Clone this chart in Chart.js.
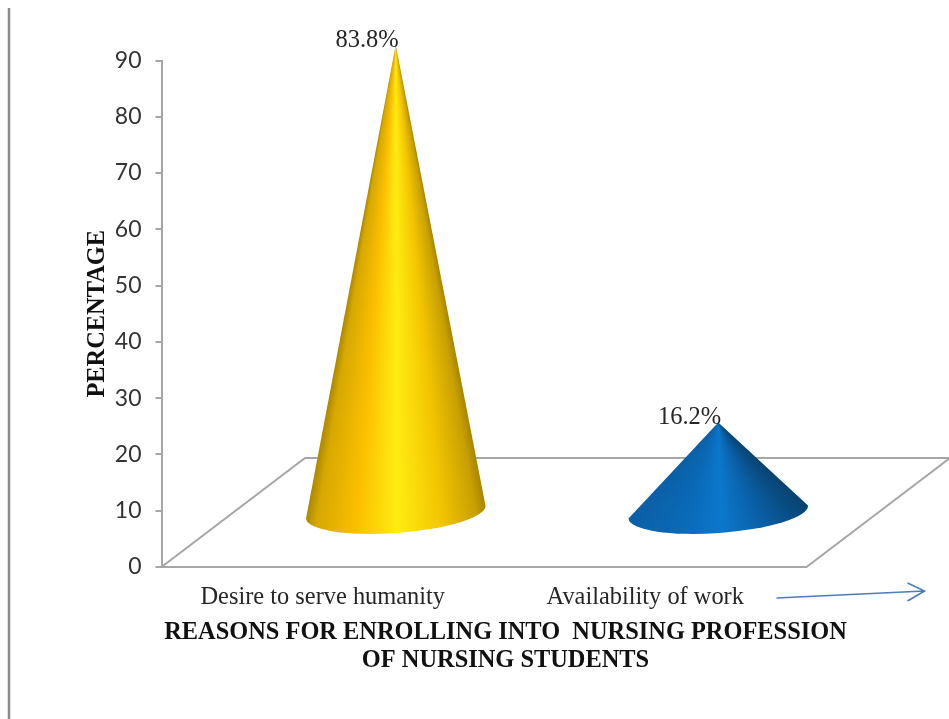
<!DOCTYPE html>
<html>
<head>
<meta charset="utf-8">
<title>Reasons for enrolling into nursing profession</title>
<script src="https://cdn.jsdelivr.net/npm/chart.js@4/dist/chart.umd.min.js"></script>
<style>
  html, body { margin: 0; padding: 0; background: #fff; }
  canvas { display: block; }
</style>
</head>
<body>
<canvas id="chart" width="949" height="719"></canvas>
<script>
const categories = ["Desire to serve humanity", "Availability of work"];
const percentages = [83.8, 16.2];
const xTitleLines = ["REASONS FOR ENROLLING INTO  NURSING PROFESSION", "OF NURSING STUDENTS"];
const yTitle = "PERCENTAGE";

const yellowStops = [[0, "#ad8800"], [0.06, "#d6a800"], [0.28, "#fbbf00"], [0.5, "#ffec12"], [0.75, "#f2c400"], [0.94, "#c8a000"], [1, "#a88400"]];
const blueStops = [[0, "#0b5fa6"], [0.25, "#0a69b6"], [0.5, "#0b78cc"], [0.75, "#0a5ea4"], [1, "#07426f"]];
const coneStops = [yellowStops, blueStops];

const serif = "'Liberation Serif', 'Times New Roman', serif";
const axisGrey = "#a6a6a6";

// floor of the 3D plot, and how far into it the cones stand
const floorDepthX = 143.5;
const floorDepthY = 109;
const coneOffsetX = 73;
const coneOffsetY = 54;
const coneTilt = 6.5;
const coneRy = 21;
const coneHeightScale = 0.992;

const floorPlugin = {
  id: "floor",
  beforeDatasetsDraw(chart) {
    const { ctx, scales: { x, y } } = chart;
    const base = y.getPixelForValue(0);
    ctx.save();
    ctx.strokeStyle = axisGrey;
    ctx.lineWidth = 2;
    ctx.beginPath();
    ctx.moveTo(x.left, base);
    ctx.lineTo(x.left + floorDepthX, base - floorDepthY);
    ctx.lineTo(x.right + floorDepthX, base - floorDepthY);
    ctx.lineTo(x.right, base);
    ctx.stroke();
    ctx.restore();
  }
};

const conePlugin = {
  id: "cones",
  afterDatasetsDraw(chart) {
    const { ctx } = chart;
    chart.getDatasetMeta(0).data.forEach((bar, i) => {
      const cx = bar.x + coneOffsetX;
      const cy = bar.base - coneOffsetY;
      const rx = bar.width / 2;
      const tipY = cy - (bar.base - bar.y) * coneHeightScale;
      const angle = Math.atan2(-coneTilt, rx);
      const dx = rx * Math.cos(angle);
      const dy = rx * Math.sin(angle);

      // shading fans out from the tip, so the bands narrow towards it
      const rightAngle = Math.atan2(cy + dy - tipY, dx);
      const leftAngle = Math.atan2(cy - dy - tipY, -dx);
      const sweep = (leftAngle - rightAngle) / (Math.PI * 2);
      const grad = ctx.createConicGradient(rightAngle, cx, tipY);
      const stops = coneStops[i];
      stops.slice().reverse().forEach(([at, colour]) => grad.addColorStop((1 - at) * sweep, colour));
      grad.addColorStop(1, stops[stops.length - 1][1]);

      ctx.save();
      ctx.beginPath();
      ctx.moveTo(cx, tipY);
      ctx.lineTo(cx + dx, cy + dy);
      ctx.ellipse(cx, cy, rx, coneRy, angle, 0, Math.PI);
      ctx.closePath();
      ctx.fillStyle = grad;
      ctx.fill();

      // value label sits against the tip, ending just past it
      ctx.fillStyle = "#262626";
      ctx.font = "24.5px " + serif;
      ctx.textAlign = "right";
      ctx.textBaseline = "alphabetic";
      ctx.fillText(percentages[i].toFixed(1) + "%", cx + 3, tipY + 1.5);
      ctx.restore();
    });
  }
};

const extrasPlugin = {
  id: "extras",
  afterDraw(chart) {
    const { ctx, scales: { x, y } } = chart;
    const base = y.getPixelForValue(0);
    ctx.save();

    // page rule down the left side
    ctx.strokeStyle = "#8c8c8c";
    ctx.lineWidth = 2.5;
    ctx.beginPath();
    ctx.moveTo(9, 8);
    ctx.lineTo(9, chart.height);
    ctx.stroke();

    // two line axis title, centred a little right of the plot
    ctx.fillStyle = "#111";
    ctx.font = "bold 24.4px " + serif;
    ctx.textAlign = "center";
    ctx.textBaseline = "alphabetic";
    xTitleLines.forEach((line, i) => {
      ctx.fillText(line, x.left + 344, base + 72 + i * 28);
    });

    // arrow beside the category labels
    const ax = x.right + 118;
    const ay = base + 24;
    ctx.strokeStyle = "#4a7ebb";
    ctx.lineWidth = 1.6;
    ctx.beginPath();
    ctx.moveTo(x.right - 30, base + 31);
    ctx.lineTo(ax, ay);
    ctx.moveTo(ax - 17, ay - 8);
    ctx.lineTo(ax, ay);
    ctx.lineTo(ax - 17, ay + 10);
    ctx.stroke();
    ctx.restore();
  }
};

new Chart(document.getElementById("chart"), {
  type: "bar",
  data: {
    labels: categories,
    datasets: [{
      data: percentages,
      backgroundColor: "transparent",
      borderWidth: 0,
      barPercentage: 1,
      categoryPercentage: 0.558
    }]
  },
  options: {
    responsive: false,
    animation: false,
    layout: { padding: { top: 60.5, right: 142.5, bottom: 0, left: 0 } },
    plugins: {
      legend: { display: false },
      tooltip: { enabled: false }
    },
    scales: {
      x: {
        afterFit(scale) { scale.height = 152; },
        grid: { display: false },
        border: { color: axisGrey, width: 2 },
        ticks: {
          font: { family: serif, size: 24.4 },
          color: "#262626",
          padding: 8,
          maxRotation: 0
        }
      },
      y: {
        min: 0,
        max: 90,
        afterFit(scale) { scale.width = 161.5; },
        grid: {
          drawOnChartArea: false,
          color: axisGrey,
          lineWidth: 2,
          tickLength: 6
        },
        border: { color: axisGrey, width: 2 },
        ticks: {
          stepSize: 10,
          font: { family: "Lato", size: 23 },
          color: "#333333",
          padding: 14
        },
        title: {
          display: true,
          text: yTitle,
          font: { family: serif, size: 24.4, weight: "bold" },
          color: "#111",
          padding: { top: 83, bottom: 0 }
        }
      }
    }
  },
  plugins: [floorPlugin, conePlugin, extrasPlugin]
});
</script>
</body>
</html>
